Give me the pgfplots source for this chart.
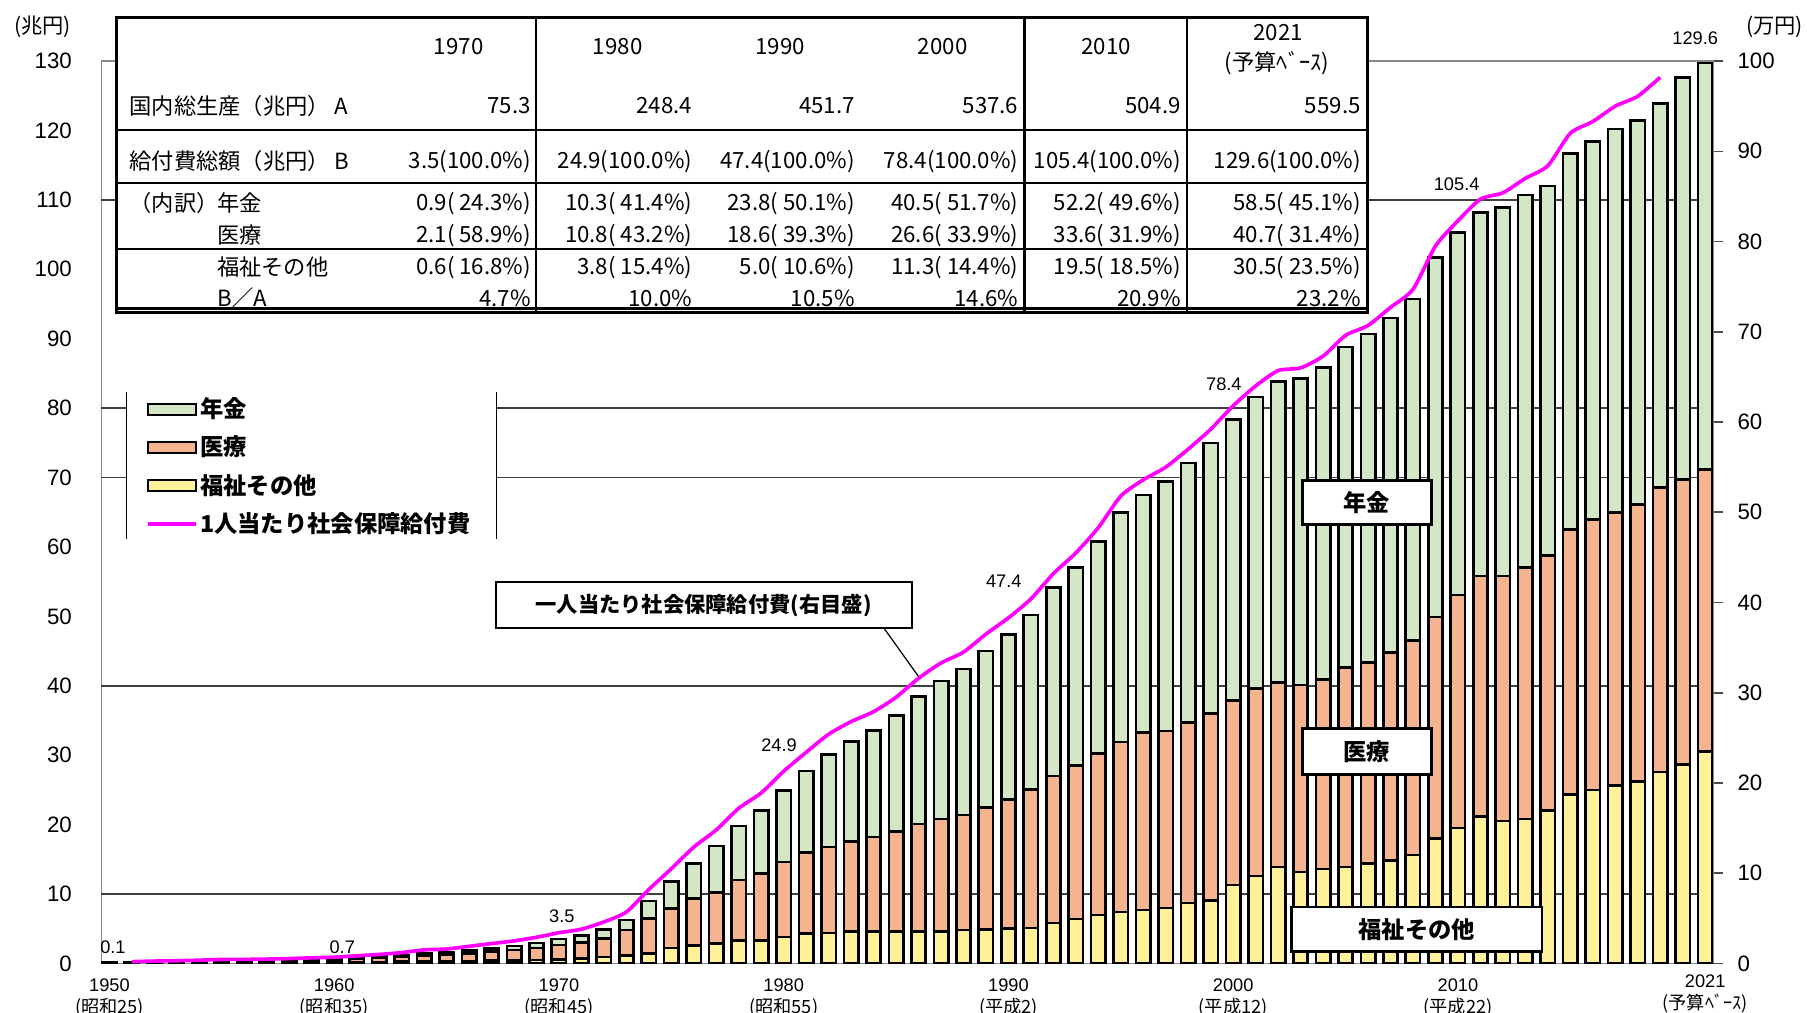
\documentclass[border=0pt]{standalone}
\usepackage{fontspec}
\setmainfont{Liberation Sans}
\newfontfamily\jp{Noto Sans CJK JP}
\usepackage{pgfplots}
\usepackage{pgfplotstable}
\pgfplotsset{compat=1.18}

\definecolor{pens}{HTML}{D3E7C6}
\definecolor{med}{HTML}{F4B48F}
\definecolor{wel}{HTML}{FFF09A}
\definecolor{pc}{HTML}{FF00FF}
\definecolor{axgray}{HTML}{8A8A8A}

% social security benefits, trillion yen: welfare / medical / pension
\pgfplotstableread{
year wel med pen
1950 0.05 0.06 0.02
1951 0.06 0.08 0.02
1952 0.08 0.11 0.03
1953 0.09 0.13 0.04
1954 0.10 0.17 0.05
1955 0.12 0.21 0.06
1956 0.12 0.22 0.06
1957 0.12 0.24 0.07
1958 0.13 0.28 0.08
1959 0.14 0.33 0.10
1960 0.14 0.36 0.15
1961 0.17 0.45 0.17
1962 0.20 0.56 0.20
1963 0.24 0.71 0.23
1964 0.28 0.87 0.28
1965 0.30 0.95 0.35
1966 0.34 1.12 0.42
1967 0.39 1.30 0.49
1968 0.45 1.51 0.57
1969 0.51 1.74 0.67
1970 0.59 2.06 0.86
1971 0.75 2.30 1.00
1972 0.95 2.60 1.38
1973 1.10 3.70 1.44
1974 1.40 5.10 2.50
1975 2.20 5.70 3.90
1976 2.6 6.8 5.0
1977 2.9 7.3 6.7
1978 3.3 8.7 7.8
1979 3.3 9.7 9.0
1980 3.8 10.8 10.3
1981 4.3 11.7 11.7
1982 4.4 12.4 13.3
1983 4.6 13.0 14.4
1984 4.6 13.6 15.4
1985 4.6 14.4 16.7
1986 4.6 15.5 18.4
1987 4.6 16.2 19.9
1988 4.8 16.6 21.0
1989 4.9 17.6 22.5
1990 5.0 18.6 23.8
1991 5.1 20.0 25.1
1992 5.8 21.2 27.2
1993 6.4 22.1 28.5
1994 7.0 23.2 30.6
1995 7.4 24.5 33.1
1996 7.7 25.6 34.2
1997 8.0 25.5 35.9
1998 8.7 26.0 37.4
1999 9.1 26.9 39.0
2000 11.3 26.6 40.5
2001 12.6 27.0 42.0
2002 13.9 26.6 43.3
2003 13.2 26.9 44.2
2004 13.6 27.3 45.0
2005 13.9 28.7 46.2
2006 14.4 29.0 47.3
2007 14.8 30.0 48.2
2008 15.6 30.9 49.2
2009 18.0 31.9 51.8
2010 19.5 33.6 52.2
2011 21.2 34.6 52.4
2012 20.5 35.3 53.1
2013 20.8 36.2 53.7
2014 22.0 36.8 53.2
2015 24.3 38.2 54.2
2016 25.0 39.0 54.4
2017 25.6 39.4 55.2
2018 26.2 39.9 55.3
2019 27.6 41.0 55.3
2020 28.7 41.0 57.9
2021 30.5 40.7 58.5
}\benefit

% per-capita benefits, 10 thousand yen (right axis)
\pgfplotstableread{
year pc
1951 0.2
1952 0.26
1953 0.3
1954 0.36
1955 0.44
1956 0.45
1957 0.48
1958 0.54
1959 0.62
1960 0.7
1961 0.84
1962 1.0
1963 1.2
1964 1.5
1965 1.6
1966 1.9
1967 2.2
1968 2.5
1969 2.9
1970 3.4
1971 3.8
1972 4.6
1973 5.7
1974 8.2
1975 10.5
1976 12.9
1977 14.8
1978 17.2
1979 18.9
1980 21.3
1981 23.4
1982 25.4
1983 26.8
1984 27.9
1985 29.5
1986 31.6
1987 33.3
1988 34.5
1989 36.5
1990 38.3
1991 40.4
1992 43.2
1993 45.5
1994 48.3
1995 51.8
1996 53.6
1997 55.0
1998 57.0
1999 59.2
2000 61.8
2001 64.0
2002 65.7
2003 66.0
2004 67.3
2005 69.6
2006 70.7
2007 72.7
2008 74.7
2009 79.5
2010 82.3
2011 84.7
2012 85.4
2013 87.0
2014 88.4
2015 92.0
2016 93.3
2017 95.0
2018 96.1
2019 98.2
}\percap

\pgfplotsset{
  barleg/.style={legend image code/.code={\draw[##1] (0mm,-0.95mm) rectangle (8.4mm,0.95mm);}},
  lineleg/.style={legend image code/.code={\draw[##1] (0mm,0mm) -- (8.4mm,0mm);}},
}

\newcommand\trow[7]{%
  \node[anchor=east,inner sep=0pt] at (461,#1) {#2};
  \node[anchor=east,inner sep=0pt] at (601,#1) {#3};
  \node[anchor=east,inner sep=0pt] at (742,#1) {#4};
  \node[anchor=east,inner sep=0pt] at (884,#1) {#5};
  \node[anchor=east,inner sep=0pt] at (1025,#1) {#6};
  \node[anchor=east,inner sep=0pt] at (1181,#1) {#7};
}

\begin{document}
\begin{tikzpicture}
\useasboundingbox (0,0) rectangle (313.6mm,-175.8mm);

\begin{axis}[
  at={(17.6mm,-167.2mm)}, anchor=south west,
  scale only axis, width=279.8mm, height=156.6mm,
  xmin=1949.64, xmax=2021.38, ymin=0, ymax=130,
  ybar stacked, bar width=0.64,
  axis line style={axgray, line width=0.8pt},
  major tick length=0pt,
  ytick={0,10,...,130},
  /pgf/number format/assume math mode=true,
  yticklabel style={font=\fontsize{11}{13}\selectfont, xshift=-3.9mm},
  xtick={1950,1960,1970,1980,1990,2000,2010},
  xticklabels={{1950\\{\jp(昭和25)}},{1960\\{\jp(昭和35)}},{1970\\{\jp(昭和45)}},{1980\\{\jp(昭和55)}},{1990\\{\jp(平成2)}},{2000\\{\jp(平成12)}},{2010\\{\jp(平成22)}}},
  xticklabel style={align=center, font=\fontsize{9}{10.8}\selectfont, yshift=-1.5mm},
  extra x ticks={2021},
  extra x tick labels={{2021\\{\jp(予算ﾍﾞｰｽ)}}},
  extra x tick style={xticklabel style={yshift=0.8mm}},
  extra y ticks={10,40,70,80,110},
  extra y tick labels={},
  extra y tick style={grid=major, major grid style={black!75, line width=0.9pt}},
  legend cell align=left,
  legend style={at={(0.0272,0.636)}, anchor=north west, draw=none, fill=none,
    inner sep=0pt, row sep=0pt,
    font=\jp\bfseries\fontsize{11.5}{13}\selectfont,
    nodes={inner xsep=1pt, inner ysep=3.8pt}},
]
\addplot[forget plot, fill=wel, draw=black, line width=1.3pt] table[x=year, y=wel] {\benefit};
\addplot[forget plot, fill=med, draw=black, line width=1.3pt] table[x=year, y=med] {\benefit};
\addplot[forget plot, fill=pens, draw=black, line width=1.3pt] table[x=year, y=pen] {\benefit};

% legend background: white, only side edges drawn
\fill[white] (rel axis cs:0.01573,0.4700) rectangle (rel axis cs:0.2445,0.6335);
\draw[black, line width=1pt] (rel axis cs:0.01573,0.4700) -- (rel axis cs:0.01573,0.6335);
\draw[black, line width=1pt] (rel axis cs:0.2445,0.4700) -- (rel axis cs:0.2445,0.6335);

\addlegendimage{barleg, fill=pens, draw=black, line width=1pt}
\addlegendentry{年金}
\addlegendimage{barleg, fill=med, draw=black, line width=1pt}
\addlegendentry{医療}
\addlegendimage{barleg, fill=wel, draw=black, line width=1pt}
\addlegendentry{福祉その他}
\addlegendimage{lineleg, draw=pc, line width=2pt}
\addlegendentry{1人当たり社会保障給付費}
\end{axis}

\begin{axis}[
  at={(17.6mm,-167.2mm)}, anchor=south west,
  scale only axis, width=279.8mm, height=156.6mm,
  xmin=1949.64, xmax=2021.38, ymin=0, ymax=100,
  axis x line=none, axis y line*=right,
  y axis line style={axgray, line width=0.8pt},
  ytick={0,10,...,100},
  tick align=outside, major tick length=1.7mm,
  tick style={black!70, line width=0.8pt},
  /pgf/number format/assume math mode=true,
  yticklabel style={font=\fontsize{11}{13}\selectfont, anchor=west, xshift=1.2mm},
]
\addplot[pc, line width=1.8pt, smooth, tension=0.4, no marks] table[x=year, y=pc] {\percap};
\end{axis}

\begin{scope}[x=0.2mm, y=-0.2mm]
  % units
  \node[font=\jp\fontsize{10.5}{12}\selectfont] at (37,23) {(兆円)};
  \node[font=\jp\fontsize{10.5}{12}\selectfont] at (1540,23) {(万円)};

  % total labels
  \begin{scope}[font=\fontsize{9}{10}\selectfont]
    \node at (98,822) {0.1};
    \node at (297,822) {0.7};
    \node at (487.5,795) {3.5};
    \node at (676,647) {24.9};
    \node at (871,504) {47.4};
    \node at (1062,333) {78.4};
    \node at (1264,160) {105.4};
    \node at (1471,33) {129.6};
  \end{scope}

  % table
  \fill[white] (101,15) rectangle (1187,271);
  \draw[line width=1pt] (101,113) -- (1187,113);
  \draw[line width=1pt] (101,159) -- (1187,159);
  \draw[line width=1pt] (101,216) -- (1187,216);
  \draw[line width=1pt] (465,15) -- (465,271);
  \draw[line width=1pt] (889,15) -- (889,271);
  \draw[line width=1pt] (1030,15) -- (1030,271);
  \draw[line width=1.5pt] (101,15) rectangle (1187,271);
  \draw[line width=1.5pt] (101,268) -- (1187,268);
  \begin{scope}[font=\jp\fontsize{11}{13}\selectfont]
    \node at (398,40.5) {1970};
    \node at (536,40.5) {1980};
    \node at (677,40.5) {1990};
    \node at (818,40.5) {2000};
    \node at (960,40.5) {2010};
    \node at (1109,28) {2021};
    \node at (1108,55) {(予算ﾍﾞｰｽ)};
    \node[anchor=west,inner sep=0pt] at (112,92) {国内総生産（兆円） A};
    \node[anchor=west,inner sep=0pt] at (112,140) {給付費総額（兆円） B};
    \node[anchor=west,inner sep=0pt] at (112,176.5) {（内訳）};
    \node[anchor=west,inner sep=0pt] at (188,176.5) {年金};
    \node[anchor=west,inner sep=0pt] at (188,204) {医療};
    \node[anchor=west,inner sep=0pt] at (188,232) {福祉その他};
    \node[anchor=west,inner sep=0pt] at (188,259) {B／A};
    \trow{92}{75.3}{248.4}{451.7}{537.6}{504.9}{559.5}
    \trow{140}{3.5(100.0\%)}{24.9(100.0\%)}{47.4(100.0\%)}{78.4(100.0\%)}{105.4(100.0\%)}{129.6(100.0\%)}
    \trow{176.5}{0.9( 24.3\%)}{10.3( 41.4\%)}{23.8( 50.1\%)}{40.5( 51.7\%)}{52.2( 49.6\%)}{58.5( 45.1\%)}
    \trow{204}{2.1( 58.9\%)}{10.8( 43.2\%)}{18.6( 39.3\%)}{26.6( 33.9\%)}{33.6( 31.9\%)}{40.7( 31.4\%)}
    \trow{232}{0.6( 16.8\%)}{3.8( 15.4\%)}{5.0( 10.6\%)}{11.3( 14.4\%)}{19.5( 18.5\%)}{30.5( 23.5\%)}
    \trow{259}{4.7\%}{10.0\%}{10.5\%}{14.6\%}{20.9\%}{23.2\%}
  \end{scope}

  % callouts
  \begin{scope}[font=\jp\bfseries\fontsize{10.5}{12}\selectfont]
    \draw[line width=0.6pt] (767,545) -- (797,587);
    \draw[fill=white, line width=1pt] (430,505) rectangle (791,545);
    \node at (610.5,525) {一人当たり社会保障給付費(右目盛)};
  \end{scope}
  \begin{scope}[font=\jp\bfseries\fontsize{11.5}{13}\selectfont]
    \draw[fill=white, line width=1.4pt] (1130,417) rectangle (1242,455);
    \node at (1186,436) {年金};
    \draw[fill=white, line width=1.4pt] (1130,632) rectangle (1242,672);
    \node at (1186,652) {医療};
    \draw[fill=white, line width=1.4pt] (1121,787) rectangle (1338,826);
    \node at (1229.5,806.5) {福祉その他};
  \end{scope}
\end{scope}
\end{tikzpicture}
\end{document}
